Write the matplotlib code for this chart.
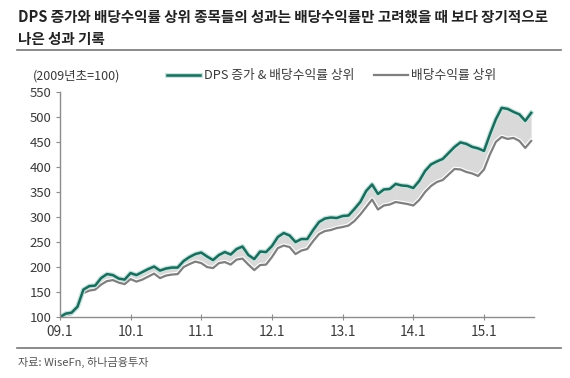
import numpy as np
import matplotlib.pyplot as plt
import matplotlib.patheffects as pe
from matplotlib.lines import Line2D

plt.rcParams['font.family'] = ['Noto Sans CJK KR', 'DejaVu Sans']

# monthly index, 2009.1 = 100 (Jan 2009 .. Sep 2015)
months = np.arange(81)
dps_top = [100, 107, 109, 121, 155, 162, 163, 178, 186, 184, 177, 175,
           188, 184, 190, 196, 201, 193, 197, 199, 199, 212, 220, 226,
           229, 221, 214, 224, 230, 225, 236, 241, 224, 216, 231, 230,
           242, 260, 268, 263, 250, 256, 256, 274, 290, 297, 299, 298,
           302, 303, 316, 330, 352, 365, 346, 355, 356, 366, 363, 362,
           358, 372, 392, 405, 411, 416, 428, 440, 449, 446, 440, 437,
           432, 465, 495, 518, 516, 510, 505, 492, 508]
yield_top = [100, 104, 106, 118, 148, 153, 155, 165, 172, 174, 169, 166,
             176, 171, 175, 181, 187, 178, 183, 185, 186, 200, 206, 211,
             208, 200, 198, 208, 210, 205, 215, 217, 205, 194, 204, 205,
             220, 238, 243, 240, 226, 233, 236, 252, 266, 272, 274, 278,
             280, 283, 292, 305, 320, 335, 315, 323, 325, 330, 328, 326,
             323, 334, 350, 362, 370, 374, 385, 396, 395, 390, 387, 382,
             395, 425, 450, 460, 456, 458, 452, 438, 452]
xtick_pos = [0, 12, 24, 36, 48, 60, 72]
xtick_labels = ['09.1', '10.1', '11.1', '12.1', '13.1', '14.1', '15.1']
series_names = ['DPS 증가 & 배당수익률 상위', '배당수익률 상위']

green = '#1d6b5d'
grey = '#7f7f7f'
text_col = '#3a3a3a'

fig = plt.figure(figsize=(5.7, 3.78), dpi=100)
ax = fig.add_axes([0.105, 0.161, 0.832, 0.596])

ax.fill_between(months, yield_top, dps_top, color='#d9d9d9', lw=0)
ax.plot(months, yield_top, color=grey, lw=1.6, label=series_names[1],
        path_effects=[pe.Stroke(linewidth=3.2, foreground='white'), pe.Normal()])
ax.plot(months, dps_top, color=green, lw=1.8, label=series_names[0],
        path_effects=[pe.Stroke(linewidth=3.6, foreground='#c5e6df'), pe.Normal()])

ax.set_xlim(0, 80.5)
ax.set_ylim(100, 550)
ax.set_yticks(range(100, 551, 50))
ax.set_xticks(xtick_pos)
ax.set_xticklabels(xtick_labels)
for s in ['top', 'right']:
    ax.spines[s].set_visible(False)
for s in ['left', 'bottom']:
    ax.spines[s].set_color('#8c8c8c')
    ax.spines[s].set_linewidth(1.0)
ax.tick_params(axis='y', direction='out', length=3, color='#8c8c8c',
               labelsize=9.5, labelcolor=text_col, pad=3)
ax.tick_params(axis='x', direction='inout', length=4, color='#8c8c8c',
               labelsize=9.8, labelcolor=text_col, pad=4)

handles, labels = ax.get_legend_handles_labels()
ax.legend(handles[::-1], labels[::-1], ncol=2, frameon=False,
          loc='center left', bbox_to_anchor=(0.272, 0.8), bbox_transform=fig.transFigure,
          fontsize=9.2, handlelength=2.6, handletextpad=0.3, columnspacing=1.6,
          labelcolor=text_col)

fig.text(0.032, 0.955, 'DPS 증가와 배당수익률 상위 종목들의 성과는 배당수익률만 고려했을 때 보다 장기적으로',
         fontsize=10.5, fontweight='bold', color='#222222', va='center')
fig.text(0.032, 0.898, '나은 성과 기록', fontsize=10.5, fontweight='bold',
         color='#222222', va='center')
fig.add_artist(Line2D([0.03, 0.985], [0.868, 0.868], color='#777777', lw=1.2))
fig.text(0.058, 0.8, '(2009년초=100)', fontsize=9, color=text_col, va='center')

fig.add_artist(Line2D([0.03, 0.985], [0.079, 0.079], color='#777777', lw=1.2))
fig.text(0.032, 0.04, '자료: WiseFn, 하나금융투자', fontsize=8, color='#555555', va='center')

fig.savefig('out.png', dpi=100)
